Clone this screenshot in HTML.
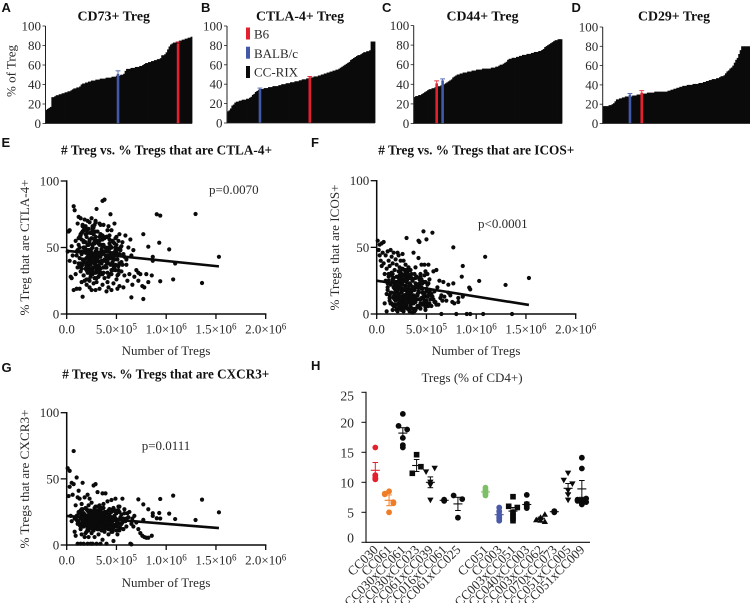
<!DOCTYPE html>
<html>
<head>
<meta charset="utf-8">
<title>Treg phenotypes across CC-RIX strains</title>
<style>
html,body{margin:0;padding:0;background:#fff;}
svg{display:block;}
text{font-family:"Liberation Serif",serif;fill:#2a2a2a;}
.letter{font-family:"Liberation Sans",sans-serif;font-weight:bold;font-size:13px;fill:#111;}
.title{font-weight:bold;font-size:13.5px;fill:#111;}
.lab{font-size:13px;}
</style>
</head>
<body>
<svg id="figure" width="750" height="603" viewBox="0 0 750 603" xmlns="http://www.w3.org/2000/svg">
  <rect x="0" y="0" width="750" height="603" fill="#fff"/>

  <g id="panel-a">
    <text class="letter" x="1.5" y="12">A</text>
    <text class="title" x="77.5" y="20.5" textLength="72.5" lengthAdjust="spacingAndGlyphs">CD73+ Treg</text>
    <text class="lab" transform="translate(15.5,71) rotate(-90)" text-anchor="middle">% of Treg</text>
  </g>
  <g id="panel-b">
    <text class="letter" x="201" y="12">B</text>
    <text class="title" x="256" y="20.5" textLength="88" lengthAdjust="spacingAndGlyphs">CTLA-4+ Treg</text>
  </g>
  <g id="panel-c">
    <text class="letter" x="382" y="12">C</text>
    <text class="title" x="446.5" y="20.5" textLength="72" lengthAdjust="spacingAndGlyphs">CD44+ Treg</text>
  </g>
  <g id="panel-d">
    <text class="letter" x="571.5" y="12">D</text>
    <text class="title" x="638" y="20.5" textLength="72" lengthAdjust="spacingAndGlyphs">CD29+ Treg</text>
  </g>

  <g id="strain-legend">
    <rect x="246" y="27.5" width="4" height="12" fill="#e5202e"/>
    <text class="lab" x="254" y="38.7">B6</text>
    <rect x="246" y="46.7" width="4" height="12" fill="#4258a8"/>
    <text class="lab" x="254" y="58">BALB/c</text>
    <rect x="246" y="66" width="4" height="12" fill="#0a0a0a"/>
    <text class="lab" x="254" y="76.7">CC-RIX</text>
  </g>

  <g id="panel-e">
    <text class="letter" x="1.5" y="147">E</text>
    <text class="title" x="61" y="154.5" font-size="13" textLength="211" lengthAdjust="spacingAndGlyphs"># Treg vs. % Tregs that are CTLA-4+</text>
    <text class="lab" transform="translate(29,247.5) rotate(-90)" text-anchor="middle" textLength="136" lengthAdjust="spacingAndGlyphs">% Treg that are CTLA-4+</text>
    <text class="lab" x="166" y="355" text-anchor="middle">Number of Tregs</text>
    <text class="lab" x="209" y="194">p=0.0070</text>
  </g>
  <g id="panel-f">
    <text class="letter" x="311" y="147">F</text>
    <text class="title" x="378.3" y="154.5" font-size="13" textLength="196" lengthAdjust="spacingAndGlyphs"># Treg vs. % Tregs that are ICOS+</text>
    <text class="lab" transform="translate(339,247.5) rotate(-90)" text-anchor="middle" textLength="126" lengthAdjust="spacingAndGlyphs">% Tregs that are ICOS+</text>
    <text class="lab" x="476" y="355" text-anchor="middle">Number of Tregs</text>
    <text class="lab" x="478" y="228">p&lt;0.0001</text>
  </g>
  <g id="panel-g">
    <text class="letter" x="1.5" y="372">G</text>
    <text class="title" x="62.3" y="378.5" font-size="13" textLength="207" lengthAdjust="spacingAndGlyphs"># Treg vs. % Tregs that are CXCR3+</text>
    <text class="lab" transform="translate(29,479) rotate(-90)" text-anchor="middle" textLength="139" lengthAdjust="spacingAndGlyphs">% Tregs that are CXCR3+</text>
    <text class="lab" x="166" y="587" text-anchor="middle">Number of Tregs</text>
    <text class="lab" x="141.7" y="450">p=0.0111</text>
  </g>
  <g id="panel-h">
    <text class="letter" x="311" y="370">H</text>
    <text class="lab" x="472" y="382" text-anchor="middle" font-size="13.7">Tregs (% of CD4+)</text>
  </g>
</svg>

<script>
// ---------- Panels A-D: sorted strain means (% of Treg) ----------
const barTicks = [0, 20, 40, 60, 80, 100];

const cd73Values = [14,15,16,17,27,27,28,29,29,30,30,31,31,32,32,33,33,34,35,36,36,37,37,38,40,41,41,42,42,43,43,44,44,44,45,45,45,46,46,46,46,47,47,47,47,48,48,48,49,49,49,50,50,51,54,56,56,56,57,57,57,58,58,58,59,59,60,61,62,62,63,63,64,64,65,65,66,66,67,70,70,71,73,76,79,81,82,83,83,84,84,85,85,86,86,87,87,88,88,89];
const cd73Ranks = [90, 49];
const cd73Means = [82, 51];
const cd73Errors = [1.5, 3];

const ctla4Values = [12,13,15,18,19,21,22,22,23,23,24,24,24,25,25,26,27,29,30,32,33,34,35,35,35,36,36,36,37,37,37,38,38,38,38,39,39,40,40,40,41,41,41,42,42,42,43,43,43,44,44,45,45,45,46,46,47,47,47,48,48,48,49,49,50,50,51,51,52,52,53,53,54,54,55,55,56,57,58,59,60,61,62,63,65,66,67,68,69,70,70,71,72,73,73,74,74,75,84,84,84];
const ctla4Ranks = [56, 22];
const ctla4Means = [47, 35];
const ctla4Errors = [1, 1];

const cd44Values = [27,28,28,29,29,30,31,32,33,34,35,35,36,36,37,37,38,38,39,39,40,41,42,43,44,45,47,48,49,50,50,51,51,52,52,52,53,53,53,54,54,54,55,55,55,55,56,56,56,56,56,56,57,57,57,58,58,59,60,60,61,62,63,65,66,66,67,67,67,68,68,69,69,70,70,70,71,71,71,72,72,73,73,73,74,74,75,76,78,79,80,81,82,83,84,85,85,86,86,86];
const cd44Ranks = [15, 19];
const cd44Means = [41, 44];
const cd44Errors = [2.5, 1.5];

const cd29Values = [18,18,18,18,19,19,20,21,23,25,25,26,26,27,27,28,28,28,28,28,29,29,29,30,30,30,31,31,31,31,32,32,32,32,32,33,33,33,33,33,33,33,33,33,34,34,35,35,36,36,37,37,38,38,39,39,39,40,40,40,40,41,41,41,41,42,42,42,43,43,44,44,45,45,46,46,46,47,47,48,49,49,50,52,54,55,57,58,60,63,66,68,72,76,80,80,80,80,80,80];
const cd29Ranks = [26, 18];
const cd29Means = [32, 30];
const cd29Errors = [2, 1];

// ---------- Panels E-G: number of Tregs (x 10^5) and percentages ----------
const scatterYTicks = [0, 50, 100];
const scatterXTicks = [0, 5, 10, 15, 20];
const scatterXBase = ['0.0', '5.0×10', '1.0×10', '1.5×10', '2.0×10'];
const scatterXExp = ['', '5', '6', '6', '6'];

const tregCounts = [
0.1,0.2,0.3,0.3,0.4,0.5,0.5,0.6,0.7,0.7,0.8,0.8,0.9,0.9,1.0,1.0,1.1,1.1,1.2,1.2,
1.3,1.3,1.4,1.4,1.4,1.5,1.5,1.5,1.6,1.6,1.6,1.7,1.7,1.7,1.8,1.8,1.8,1.9,1.9,1.9,
2.0,2.0,2.0,2.0,2.1,2.1,2.1,2.1,2.2,2.2,2.2,2.2,2.3,2.3,2.3,2.3,2.4,2.4,2.4,2.4,
2.5,2.5,2.5,2.5,2.6,2.6,2.6,2.6,2.7,2.7,2.7,2.7,2.8,2.8,2.8,2.8,2.9,2.9,2.9,2.9,
3.0,3.0,3.0,3.0,3.1,3.1,3.1,3.2,3.2,3.2,3.3,3.3,3.3,3.4,3.4,3.4,3.5,3.5,3.5,3.6,
3.6,3.6,3.7,3.7,3.7,3.8,3.8,3.9,3.9,3.9,4.0,4.0,4.1,4.1,4.2,4.2,4.2,4.3,4.3,4.4,
4.4,4.5,4.5,4.6,4.6,4.7,4.7,4.8,4.8,4.9,4.9,5.0,5.0,5.1,5.1,5.2,5.3,5.3,5.4,5.5,
5.5,5.6,5.7,5.7,5.8,5.9,6.0,6.1,6.2,6.3,6.4,6.5,6.6,6.7,6.8,7.0,7.2,7.4,7.6,7.8,
1.1,1.3,1.5,1.7,1.9,2.0,2.1,2.2,2.3,2.4,2.5,2.6,2.7,2.8,2.9,3.0,3.1,3.2,3.3,3.4,
1.4,1.6,1.8,2.0,2.2,2.4,2.6,2.8,3.0,3.2,3.4,3.6,3.8,4.0,4.2,4.4,4.6,4.8,5.0,5.2,
1.2,1.9,2.3,2.7,3.1,3.5,3.9,4.3,4.7,5.1,1.7,2.1,2.5,2.9,3.3,3.7,4.1,4.5,4.9,5.3,
15.3,13.6,12.95,10.7,10.3,10.9,9.4,9.3,9.05,9.4,8.65,8.65,8.2,8.2,7.7,7.7,8.0,6.5,7.2,8.55,
1.0,1.2,1.4,1.6,1.8,2.0,2.2,2.4,2.6,2.8,3.0,3.2,3.4,3.6,3.8,4.0,4.2,4.4,4.6,4.8,
1.5,1.7,1.9,2.1,2.3,2.5,2.7,2.9,3.1,3.3,3.5,3.7,3.9,4.1,4.3,4.5,4.7,4.9,5.1,5.3,
1.3,1.6,1.9,2.2,2.5,2.8,3.1,3.4,3.7,4.0,4.3,4.6,4.9,5.2,5.5,5.8,1.8,2.4,3.0,3.6,
2.0,2.3,2.6,2.9,3.2,3.5,3.8,4.1,4.4,4.7,5.0,1.4,2.1,2.7,3.3,3.9,4.5,5.4,5.6,6.0,
1.1,1.5,2.0,2.4,2.8,3.2,3.6,4.0,4.4,4.8,5.2,1.6,2.2,2.6,3.0,3.4,3.8,4.2,4.6,5.0,
1.7,2.1,2.5,2.9,3.3,3.7,4.1,4.5,4.9,5.3,1.2,1.8,2.3,2.7,3.1,3.5,3.9,4.3,4.7,5.1
];

const ctla4Percent = [
47,62,40,63,28,51,27,44,81,18,78,39,55,30,19,47,68,35,73,52,
19,42,60,32,72,56,24,45,67,37,13,50,29,63,41,71,25,54,34,66,
46,22,58,38,70,31,52,43,64,26,48,36,69,20,55,41,61,33,47,28,
72,44,18,57,39,65,30,50,23,60,42,35,67,27,53,45,18,70,38,58,
32,49,79,24,62,41,55,28,46,36,68,19,52,43,34,60,30,48,38,22,
56,85,40,31,67,86,27,50,44,35,17,58,24,47,66,38,20,53,42,75,
30,63,18,55,37,46,23,68,41,33,50,26,58,19,44,36,60,21,48,32,
39,54,20,45,29,59,37,25,50,30,56,44,22,48,28,33,25,30,21,20,
35,58,47,29,64,42,52,38,25,61,49,33,44,56,40,27,54,36,46,31,
59,41,50,26,48,37,63,43,34,53,45,30,57,39,28,51,42,35,47,55,
38,46,32,60,44,52,36,49,41,29,55,43,34,47,39,58,31,50,37,45,
43,23.3,75.2,26,48.6,38,24.6,53.6,75,74,43,40,50.6,24,60,11.3,30,12.5,31,29,
44,57,36,62,48,33,52,41,66,38,55,45,30,59,47,35,50,42,37,53,
61,39,49,34,56,43,65,31,46,58,40,52,36,63,44,33,54,48,41,38,
50,37,60,45,32,54,42,67,35,48,56,39,44,33,51,43,64,30,47,58,
36,53,42,69,31,49,57,40,46,34,52,38,61,44,55,35,43,50,37,41,
48,34,63,40,55,32,47,58,37,44,30,66,43,52,36,60,41,49,33,45,
54,39,46,62,35,51,42,30,57,38,47,64,33,53,40,45,36,59,43,49
];

const icosPercent = [
55,48,52,44,40,53,36,46,54,38,8,30,25,44,2,34,47,18,40,28,
12,36,48,22,8,30,43,16,3,26,38,12,46,20,6,33,15,41,24,10,
28,4,18,37,12,46,24,2,32,15,44,8,20,28,5,35,13,40,22,7,
30,16,3,26,45,11,34,19,2,25,40,9,29,14,33,5,21,37,12,27,
18,7,57,24,31,4,16,28,10,35,2,22,13,27,6,33,17,9,30,20,
1,25,14,46,8,30,18,3,23,35,11,28,6,20,55,16,42,26,54,4,
30,12,37,19,7,62,24,15,37,5,32,10,56,22,13,37,8,26,18,6,
14,61,11,32,17,9,33,20,7,25,12,14,10,24,13,10,16,14,9,8,
20,14,8,27,17,3,23,11,29,6,18,13,25,9,21,15,4,19,28,12,
16,24,7,20,12,31,5,18,26,10,22,14,2,28,17,8,23,13,19,6,
25,11,19,4,15,27,9,21,13,30,7,17,24,10,3,20,14,26,8,16,
27,0,21.8,0,24.8,42.9,18.5,19.8,0,0,36,13,9,12,50,23,0,0,22,28,
15,24,8,30,19,11,27,5,22,14,33,9,18,26,12,21,6,28,16,10,
29,13,20,7,25,16,3,31,11,23,17,9,27,14,5,20,12,24,8,18,
10,26,17,4,22,13,30,8,19,28,11,16,6,23,15,9,21,32,12,25,
18,7,24,14,33,10,20,5,27,12,17,8,22,29,15,4,19,11,13,7,
23,31,13,9,26,16,4,21,11,29,14,7,24,18,5,27,12,20,8,17,
6,19,28,12,22,9,15,25,3,18,30,11,21,7,26,14,10,23,16,13
];

const cxcr3Percent = [
58,37,56,44,22,47,18,38,71,46,10,20,30,7,51,22,36,1,41,25,
16,35,1,26,12,20,31,8,22,17,47,1,24,14,36,19,6,28,16,22,
20,10,27,15,38,1,22,18,12,30,19,6,24,16,35,21,1,26,13,20,
18,23,9,32,17,1,25,14,21,45,11,19,27,16,6,22,46,13,18,29,
20,1,15,24,40,12,21,17,8,26,14,30,19,1,23,16,28,11,20,39,
17,4,22,13,31,25,10,19,39,15,24,1,20,33,12,18,8,23,27,16,
21,10,34,18,26,3,15,22,14,20,35,11,24,17,8,19,29,13,21,16,
23,35,12,20,27,18,14,24,21,25,1,16,20,14,22,17,12,9,7,6,
18,24,14,21,9,17,26,19,13,23,16,20,11,25,15,22,18,12,21,17,
20,15,23,18,12,22,16,26,19,14,21,17,24,13,20,18,10,22,16,19,
17,22,19,13,21,16,24,18,20,15,23,12,19,22,17,14,21,18,25,16,
24.7,34.3,18.9,37.3,23.7,19.6,34.8,24.2,20.2,20,24,22,27,5.5,30.7,19,5.5,0.5,34.5,7,
19,24,14,27,21,16,11,23,18,28,13,20,25,15,22,17,26,12,19,21,
23,16,20,12,26,18,14,22,29,17,11,24,19,15,27,21,13,20,16,25,
15,21,18,25,13,23,17,28,20,14,22,11,19,26,16,24,21,18,13,23,
22,17,12,26,19,15,24,20,14,28,18,21,11,16,23,19,25,13,17,20,
16,27,21,14,18,23,12,25,20,15,29,19,22,13,17,24,11,21,18,26,
24,13,19,22,16,28,14,20,26,11,18,23,15,21,12,25,17,27,19,14
];

const fitCounts = [0, 15.3];
const ctla4Fit = [47.5, 35.8];
const icosFit = [25, 6.8];
const cxcr3Fit = [22, 12.8];

// ---------- Panel H: Tregs (% of CD4+) by strain ----------
const strainTicks = [0, 5, 10, 15, 20, 25];
const strainNames = ['CC030','CC061','CC030xCC061','CC030xCC023','CC061xCC039','CC016xCC061','CC061xCC025','CC051','CC003','CC003xCC051','CC040xCC003','CC003xCC062','CC070xCC073','CC051xCC005','CC051xCC009'];
const strainSlots = [0,1,2,3,4,5,6,8,9,10,11,12,13,14,15];
const strainColors = ['#e5202e','#ef7d28','#0a0a0a','#0a0a0a','#0a0a0a','#0a0a0a','#0a0a0a','#7dbf66','#4a5aa8','#0a0a0a','#0a0a0a','#0a0a0a','#0a0a0a','#0a0a0a','#0a0a0a'];
const strainMarkers = ['circle','circle','circle','square','down','circle','circle','circle','circle','square','circle','up','circle','down','circle'];
const strainMeans = [12,7,18.2,12.8,10,7,6.4,8.4,4.6,5.2,6.3,4,5.1,9,8.9];
const strainErrors = [1.3,0.9,0.9,1,0.9,0.1,1.1,0.3,0.4,0.6,0.4,0.2,0.1,0.8,1.4];
const strainPoints = [
  [15.8,11.2,10.8,10.5,10.6],
  [8.5,8.1,8.0,6.7,6.5,5.0],
  [21.4,19.4,18.8,17.4,16.2,15.8],
  [14.6,12.6,11.5],
  [12.3,11.7,10.0,9.5,7.0],
  [7.1,7.0,6.9],
  [7.8,7.2,4.1],
  [9.1,8.7,8.4,8.1,7.8],
  [5.8,5.2,4.6,4.2,3.9,3.6],
  [7.6,6.0,5.8,5.0,4.5,4.0,3.6],
  [7.9,6.4,6.2,5.9,5.7],
  [4.7,4.2,3.8,3.7,3.5],
  [5.2,5.1,5.0],
  [11.5,10.3,9.7,8.6,7.9,7.0],
  [14.1,12.3,7.3,7.1,7.0,6.9,6.7,6.4,6.3]
];
// swarm column of each point: -1 left of the strain centre, 0 centred, 1 right
const strainColumns = [
  [0,0,0,0,0],
  [0,-1,-1,1,1,0],
  [0,-1,1,0,0,0],
  [0,1,-1],
  [1,-1,0,0,0],
  [0,0,0],
  [-1,1,0],
  [0,0,0,0,0],
  [0,0,0,0,0,0],
  [0,-1,1,0,0,0,0],
  [0,0,0,0,0],
  [1,0,-1,0,1],
  [0,0,0],
  [0,-1,1,0,0,0],
  [0,0,1,-1,0,-1,1,0,0]
];

// ---------- Drawing ----------
const NS = 'http://www.w3.org/2000/svg';
const INK = '#0a0a0a';
function svgEl(tag, parent) {
  const el = document.createElementNS(NS, tag);
  parent.appendChild(el);
  return el;
}
function setAll(el, attrs) {
  for (const k in attrs) el.setAttribute(k, attrs[k]);
  return el;
}
function drawLine(parent, name, x1, y1, x2, y2, color, width) {
  const ln = svgEl('line', parent);
  
  
  setAll(ln, {x1: x1, y1: y1, x2: x2, y2: y2, stroke: color, 'stroke-width': width});
  return ln;
}
function drawTickLabel(parent, name, x, y, anchor, str) {
  const t = svgEl('text', parent);
  
  
  setAll(t, {x: x, y: y, 'text-anchor': anchor, 'font-size': 13});
  t.textContent = str;
  return t;
}

function drawBarPanel(id, values, ranks, means, errors, box) {
  const g = document.getElementById(id);
  const yS = function (v) { return box.y0 + (box.y100 - box.y0) * v / 100; };
  const bw = (box.x1 - box.x0) / values.length;
  const xS = function (i) { return box.x0 + bw * i; };
  values.forEach(function (v, i) {
    const r = svgEl('rect', g);
    
    
    setAll(r, {x: xS(i), y: yS(v), width: bw + 0.4, height: box.y0 - yS(v), fill: INK});
  });
  const colors = ['#e5202e', '#4258a8'];
  ranks.forEach(function (rank, i) {
    const cx = xS(rank) + bw / 2;
    const s = svgEl('rect', g);
    
    
    setAll(s, {x: cx - 1.3, y: yS(means[i]), width: 2.6, height: box.y0 - yS(means[i]), fill: colors[i]});
    drawLine(g, 'reference-strain-error-stem', cx, yS(means[i] + errors[i]), cx, yS(means[i]), colors[i], 0.8);
    drawLine(g, 'reference-strain-error-cap', cx - 2.4, yS(means[i] + errors[i]), cx + 2.4, yS(means[i] + errors[i]), colors[i], 0.9);
  });
  drawLine(g, 'y-axis-line', box.x0, box.y100, box.x0, box.y0 + 0.5, '#222', 1);
  drawLine(g, 'x-axis-line', box.x0, box.y0, box.x1, box.y0, '#222', 0.8);
  barTicks.forEach(function (t) {
    drawLine(g, 'y-axis-tick', box.x0 - 3, yS(t), box.x0, yS(t), '#222', 0.8);
    drawTickLabel(g, 'y-tick-label', box.x0 - 4.5, yS(t) + 4.5, 'end', String(t));
  });
}
drawBarPanel('panel-a', cd73Values, cd73Ranks, cd73Means, cd73Errors, {x0: 45.5, x1: 192, y0: 123.5, y100: 26});
drawBarPanel('panel-b', ctla4Values, ctla4Ranks, ctla4Means, ctla4Errors, {x0: 227, x1: 375, y0: 123, y100: 26});
drawBarPanel('panel-c', cd44Values, cd44Ranks, cd44Means, cd44Errors, {x0: 413.7, x1: 562, y0: 123.5, y100: 25.5});
drawBarPanel('panel-d', cd29Values, cd29Ranks, cd29Means, cd29Errors, {x0: 602.7, x1: 750, y0: 123.5, y100: 27});

function drawScatter(id, yValues, fit, box) {
  const g = document.getElementById(id);
  const xS = function (v) { return box.x0 + 199 * v / 20; };
  const yS = function (v) { return box.y0 + (box.y100 - box.y0) * v / 100; };
  const n = Math.min(tregCounts.length, yValues.length);
  for (let i = 0; i < n; i++) {
    const c = svgEl('circle', g);
    
    
    setAll(c, {cx: xS(tregCounts[i]), cy: yS(yValues[i]), r: 2.1, fill: INK});
  }
  drawLine(g, 'regression-line', xS(fitCounts[0]), yS(fit[0]), xS(fitCounts[1]), yS(fit[1]), INK, 2.6);
  drawLine(g, 'y-axis-line', box.x0, box.y100 - 0.7, box.x0, box.y0 + 0.7, INK, 1.5);
  drawLine(g, 'x-axis-line', box.x0, box.y0, xS(20) + 0.7, box.y0, INK, 1.5);
  scatterYTicks.forEach(function (t) {
    drawLine(g, 'y-axis-tick', box.x0 - 6, yS(t), box.x0, yS(t), INK, 1.3);
    drawTickLabel(g, 'y-tick-label', box.x0 - 7.5, yS(t) + 4.5, 'end', String(t));
  });
  scatterXTicks.forEach(function (t, i) {
    drawLine(g, 'x-axis-tick', xS(t), box.y0, xS(t), box.y0 + 5, INK, 1.3);
    const lbl = drawTickLabel(g, 'x-tick-label', xS(t), box.y0 + 19.5, 'middle', scatterXBase[i]);
    if (scatterXExp[i]) {
      const sup = svgEl('tspan', lbl);
      
      
      setAll(sup, {dy: -4, 'font-size': 9});
      sup.textContent = scatterXExp[i];
    }
  });
}
drawScatter('panel-e', ctla4Percent, ctla4Fit, {x0: 66.7, y0: 314, y100: 181});
drawScatter('panel-f', icosPercent, icosFit, {x0: 376.7, y0: 314, y100: 180.7});
drawScatter('panel-g', cxcr3Percent, cxcr3Fit, {x0: 66.7, y0: 545, y100: 412.7});

function drawMarker(parent, shape, cx, cy, color) {
  let m;
  if (shape === 'circle') {
    m = svgEl('circle', parent);
    setAll(m, {cx: cx, cy: cy, r: 2.9});
  } else if (shape === 'square') {
    m = svgEl('rect', parent);
    setAll(m, {x: cx - 2.8, y: cy - 2.8, width: 5.6, height: 5.6});
  } else {
    const d = shape === 'up' ? -1 : 1;
    m = svgEl('polygon', parent);
    m.setAttribute('points', (cx - 3.2) + ',' + (cy - 2.7 * d) + ' ' + (cx + 3.2) + ',' + (cy - 2.7 * d) + ' ' + cx + ',' + (cy + 2.9 * d));
  }
  m.setAttribute('fill', color);
  
  
}

(function drawDotPlot() {
  const g = document.getElementById('panel-h');
  const axisX = 366, axisEnd = 590, y0 = 542.3, y25 = 392.3;
  const xS = function (slot) { return 375.3 + 13.77 * slot; };
  const yS = function (v) { return y0 + (y25 - y0) * v / 25; };
  strainPoints.forEach(function (pts, i) {
    const cx = xS(strainSlots[i]);
    pts.forEach(function (v, k) {
      drawMarker(g, strainMarkers[i], cx + strainColumns[i][k] * 4.3, yS(v), strainColors[i]);
    });
    const lineColor = strainColors[i];
    const m = strainMeans[i], e = strainErrors[i];
    drawLine(g, 'strain-mean-line', cx - 4.5, yS(m), cx + 4.5, yS(m), lineColor, 1.1);
    drawLine(g, 'strain-error-stem', cx, yS(m + e), cx, yS(m - e), lineColor, 1);
    drawLine(g, 'strain-error-cap', cx - 2.8, yS(m + e), cx + 2.8, yS(m + e), lineColor, 1);
    drawLine(g, 'strain-error-cap', cx - 2.8, yS(m - e), cx + 2.8, yS(m - e), lineColor, 1);
    const lbl = svgEl('text', g);
    
    
    setAll(lbl, {transform: 'translate(' + (cx + 3.5) + ',550.5) rotate(-45)', 'text-anchor': 'end', 'font-size': 13});
    lbl.textContent = strainNames[i];
  });
  drawLine(g, 'y-axis-line', axisX, y25 - 0.5, axisX, y0 + 0.5, INK, 1.1);
  drawLine(g, 'x-axis-line', axisX, y0, axisEnd, y0, INK, 1.1);
  strainTicks.forEach(function (t) {
    drawLine(g, 'y-axis-tick', axisX - 4.5, yS(t), axisX, yS(t), INK, 1);
    const nudge = t === 25 ? 3 : (t === 0 ? -5 : 0);
    const lb = drawTickLabel(g, 'y-tick-label', axisX - 12, yS(t) + 5 + nudge, 'end', String(t));
    lb.setAttribute('font-size', '13.7');
  });
})();
</script>
</body>
</html>
